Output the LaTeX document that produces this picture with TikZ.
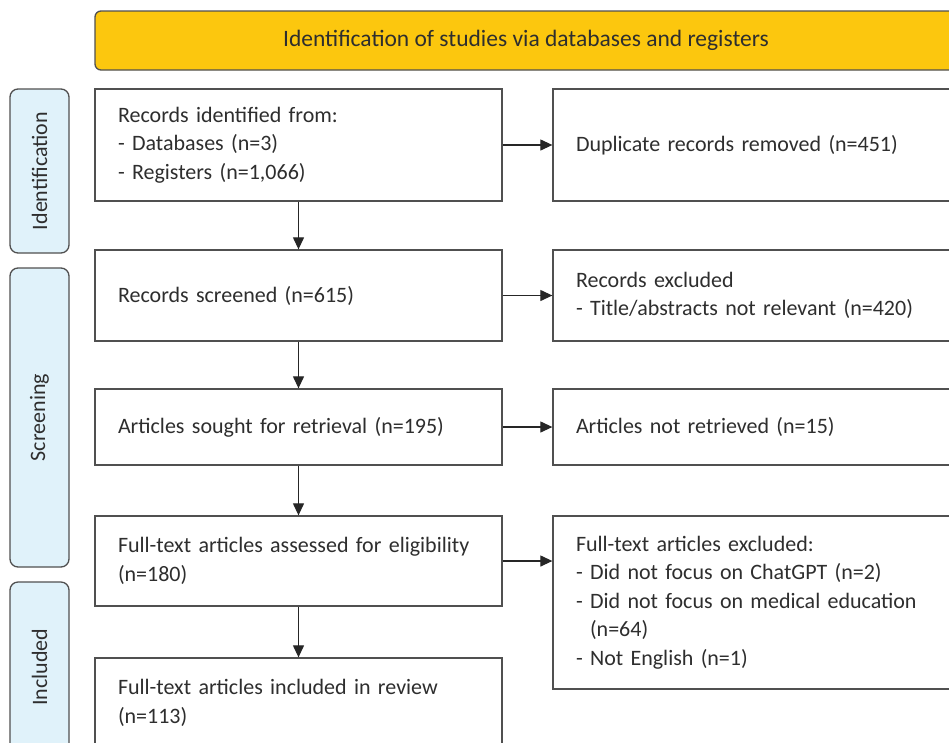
\documentclass[tikz,border=0pt]{standalone}
\usepackage{fontspec}
\setmainfont{Carlito}
\usepackage{tikz}
\usetikzlibrary{arrows.meta}
\usetikzlibrary{positioning}
\definecolor{bannerYellow}{HTML}{FCC70E}
\definecolor{stageBlue}{HTML}{E0F2FA}
\definecolor{lineGrey}{HTML}{505050}
\definecolor{textGrey}{HTML}{2E2E2E}
\tikzset{basic box/.style={draw=lineGrey,
                           line width=1.3pt,
                           text=textGrey,
                           font=\fontsize{22}{28.5}\selectfont}}
\tikzset{flow box/.style={basic box,fill=white,align=left,inner xsep=23pt,inner ysep=0pt}}
\tikzset{left box/.style={flow box,text width=361pt,minimum width=407pt}}
\tikzset{right box/.style={flow box,text width=358pt,minimum width=404pt}}
\tikzset{stage box/.style={basic box,fill=stageBlue,rounded corners=8pt,
                           rotate=90,minimum height=59pt,inner sep=0pt}}
\tikzset{flow arrow/.style={draw=black!85,line width=1.2pt,
                            -{Triangle[length=12pt,width=11pt]}}}

\begin{document}
\begin{tikzpicture}[x=1pt,y=-1pt]
      \useasboundingbox (0,0) rectangle (949,742);
      \clip (0,0) rectangle (949,742);

      % banner
      \node [basic box,fill=bannerYellow,rounded corners=6pt,
             font=\fontsize{23.5}{28.5}\selectfont,
             minimum width=862pt,minimum height=59pt] (banner) at (526,40.5)
             {Identification of studies via databases and registers};

      % stages
      \node [stage box,minimum width=164pt] (stIdent) at (39.5,171) {Identification};
      \node [stage box,minimum width=299pt] (stScreen) at (39.5,417.5) {Screening};
      \node [stage box,minimum width=170pt] (stIncl) at (39.5,667) {Included};

      % main column
      \node [left box,minimum height=112pt] (ident) at (298.5,145)
            {Records identified from:\\- Databases (n=3)\\- Registers (n=1,066)};
      \node [left box,minimum height=91pt] (screen) at (298.5,295.5)
            {Records screened (n=615)};
      \node [left box,minimum height=76pt] (sought) at (298.5,427)
            {Articles sought for retrieval (n=195)};
      \node [left box,minimum height=90pt] (assess) at (298.5,561)
            {Full-text articles assessed for eligibility\\(n=180)};
      \node [left box,minimum height=90pt] (incl) at (298.5,703)
            {Full-text articles included in review\\(n=113)};

      % side column
      \node [right box,minimum height=112pt] (dup) at (755,145)
            {Duplicate records removed (n=451)};
      \node [right box,minimum height=91pt] (excl) at (755,295.5)
            {Records excluded\\- Title/abstracts not relevant (n=420)};
      \node [right box,minimum height=76pt] (notret) at (755,427)
            {Articles not retrieved (n=15)};
      \node [right box,minimum height=173pt] (ftexcl) at (755,602.5)
            {Full-text articles excluded:\\- Did not focus on ChatGPT (n=2)\\
             - Did not focus on medical education\\\phantom{- }(n=64)\\- Not English (n=1)};

      % edges
      \foreach \a/\b in {ident/screen,screen/sought,sought/assess,assess/incl}
      {
      \path [flow arrow] (\a.south) -- (\b.north);
      }
      \foreach \a/\b in {ident/dup,screen/excl,sought/notret,assess/ftexcl}
      {
      \path [flow arrow] (\a.east) -- (\a.east -| \b.west);
      }

    \end{tikzpicture}
\end{document}
